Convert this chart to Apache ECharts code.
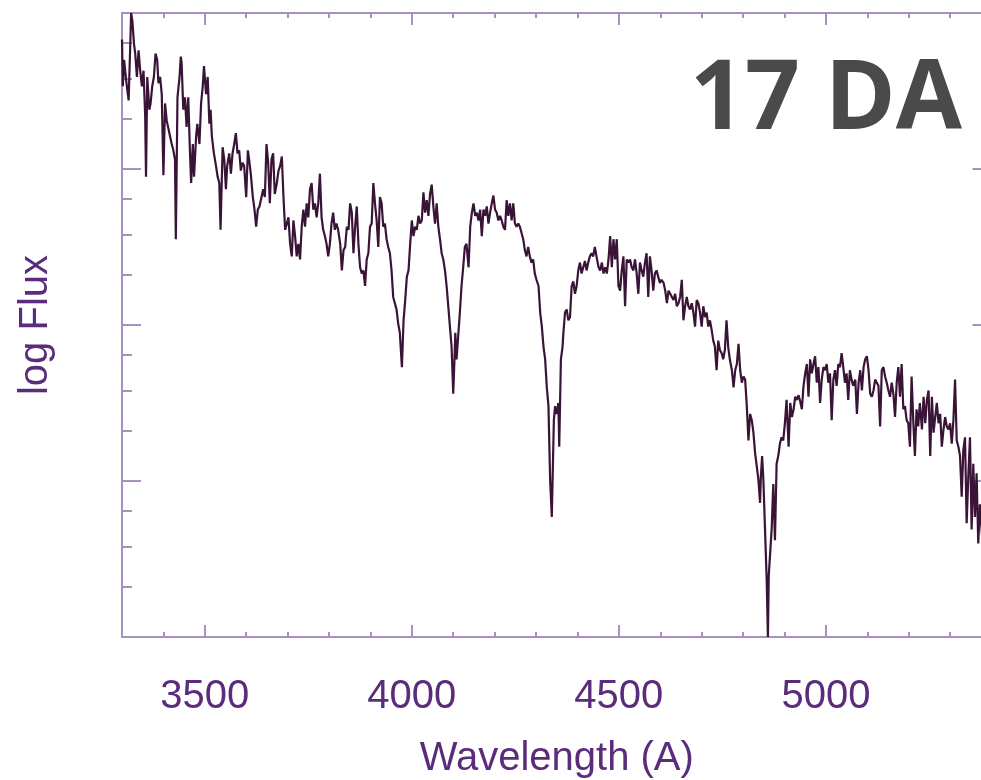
<!DOCTYPE html>
<html>
<head>
<meta charset="utf-8">
<script src="https://cdn.jsdelivr.net/npm/echarts@6/dist/echarts.min.js"></script>
<style>
html,body{margin:0;padding:0;background:#fff;}
#c{width:981px;height:780px;}
</style>
</head>
<body>
<div id="c"></div>
<script>
// Wavelength (Angstrom)
var wavelength = [
3300,3302,3305,3310,3316,3320,3322,3325,3329,3332,3336,3340,3344,3348,3352,3356,3358,3361,3366,3369,
3373,3377,3381,3385,3388,3392,3396,3400,3404,3408,3416,3420,3424,3428,3430,3434,3439,3442,3444,3448,
3452,3456,3460,3464,3467,3471,3474,3479,3482,3487,3491,3495,3498,3503,3507,3511,3514,3517,3522,3527,
3531,3535,3538,3543,3547,3551,3554,3559,3563,3567,3571,3575,3579,3583,3587,3591,3595,3600,3604,3607,
3611,3616,3620,3624,3628,3632,3637,3641,3645,3649,3653,3657,3661,3665,3669,3674,3678,3682,3686,3690,
3694,3698,3702,3706,3710,3714,3718,3722,3726,3730,3734,3738,3742,3746,3750,3754,3758,3762,3766,3770,
3774,3778,3782,3786,3790,3794,3798,3802,3806,3810,3814,3818,3822,
3827,3831,3835,3839,3843,3847,3851,3855,3859,3863,3867,3871,3875,3879,3883,3887,3891,3895,3899,3903,
3907,3911,3915,3919,3923,3927,3931,3935,3939,3943,3947,3951,3955,3959,3963,3967,3971,3976,3980,3984,
3988,3992,3996,4000,4004,4008,4012,4016,4020,4024,4028,4032,4036,4040,4044,4048,4052,4056,4060,4064,
4068,4072,4076,4080,4084,4088,4092,4096,4100,4103,4105,4108,4112,4116,4120,4124,4128,4132,4137,4141,
4145,4149,4153,4157,4161,4165,4169,4173,4177,4181,4185,4189,4193,4197,4201,4205,4209,4213,4217,4221,
4225,4229,4233,4237,4241,4245,4249,4253,4257,4261,4265,4269,4273,4277,4281,4285,4289,4293,4297,4301,
4306,4310,4314,4318,4322,4326,4330,
4334,4338,4340,4343,4346,4350,4354,4356,4360,4364,4366,4370,4374,4378,4382,4386,4390,4394,4398,4402,
4406,4410,4414,4418,4422,4426,4430,4434,4438,4442,4446,4451,4455,4459,4463,4467,4471,4475,4479,4483,
4487,4491,4495,4499,4503,4507,4511,4515,4519,4523,4527,4531,4535,4539,4543,4547,4551,4555,4559,4563,
4567,4571,4575,4579,4583,4587,4591,4595,4599,4603,4608,4612,4616,4620,4624,4628,4632,4636,4640,4644,
4648,4652,4656,4660,4664,4668,4672,4676,4680,4684,4688,4692,4696,4700,4704,4708,4712,4716,4720,4724,
4728,4732,4736,4740,4744,4748,4752,4756,4760,4764,4768,4773,4777,4781,4785,4789,4793,4797,4801,4805,
4809,4813,4817,4821,4825,4829,4833,4837,4841,
4843,4846,4849,4853,4857,4860,4862,4865,4869,4873,4877,4881,4885,4889,4893,4897,4901,4905,4910,4914,
4918,4922,4926,4930,4934,4938,4942,4946,4950,4954,4958,4962,4966,4970,4974,4978,4982,4986,4990,4994,
4998,5002,5006,5010,5014,5018,5022,5026,5030,5034,5038,5042,5046,5050,5054,5058,5062,5066,5071,5075,
5079,5083,5087,5091,5095,5099,5103,5107,5111,5115,5119,5123,5127,5131,5135,5139,5143,5147,5151,5155,
5159,5163,5167,5171,5175,5179,5183,5187,5191,5195,5199,5203,5207,5211,5215,5219,5223,5227,5232,5236,
5240,5244,5248,5252,5256,5260,5264,5268,5272,5276,5280,5284,5288,5292,5296,5300,5304,5308,5312,5316,
5320,5324,5328,5332,5336,5340,5344,5348,5352,5356,5360,5364,5368,5372,5378
];
// log Flux (arbitrary units)
var logFlux = [
3.83,3.53,3.70,3.57,3.44,3.80,4.00,3.95,3.80,3.74,3.59,3.76,3.63,3.53,3.63,3.34,2.95,3.59,3.38,3.42,
3.53,3.59,3.74,3.70,3.55,3.59,3.48,2.96,3.42,3.31,3.21,3.16,3.12,3.06,2.55,3.46,3.59,3.72,3.68,3.38,
3.46,3.27,3.46,3.12,2.91,3.16,2.95,3.21,3.29,3.16,3.42,3.53,3.66,3.48,3.59,3.29,3.38,3.21,3.10,3.02,
2.95,2.91,2.61,3.14,3.06,2.87,3.02,3.10,2.97,3.10,3.16,3.23,3.10,3.12,2.99,3.04,3.02,2.82,3.12,3.06,
2.97,2.82,2.74,2.63,2.74,2.76,2.82,2.87,2.82,3.16,3.04,2.78,3.06,3.10,2.84,2.91,2.99,3.02,3.08,2.82,
2.61,2.65,2.69,2.52,2.44,2.67,2.57,2.44,2.52,2.42,2.63,2.74,2.63,2.78,2.69,2.87,2.91,2.74,2.78,2.69,
2.78,2.97,2.69,2.61,2.57,2.52,2.44,2.52,2.65,2.72,2.61,2.65,2.61,
2.52,2.35,2.48,2.50,2.63,2.61,2.78,2.72,2.46,2.63,2.76,2.52,2.37,2.33,2.35,2.25,2.42,2.46,2.63,2.65,
2.91,2.78,2.67,2.50,2.82,2.78,2.63,2.65,2.55,2.50,2.46,2.35,2.18,2.14,2.10,2.01,1.95,1.73,2.03,2.16,
2.31,2.35,2.52,2.67,2.57,2.63,2.61,2.70,2.65,2.67,2.85,2.72,2.80,2.70,2.84,2.90,2.76,2.65,2.78,2.63,
2.55,2.46,2.42,2.35,2.25,2.12,1.99,1.86,1.56,1.78,1.95,1.78,1.93,2.08,2.25,2.37,2.50,2.52,2.37,2.63,
2.72,2.78,2.70,2.72,2.67,2.74,2.57,2.74,2.70,2.76,2.65,2.72,2.78,2.83,2.74,2.72,2.67,2.70,2.67,2.63,
2.61,2.80,2.70,2.78,2.67,2.78,2.65,2.63,2.65,2.63,2.59,2.55,2.48,2.44,2.50,2.44,2.40,2.42,2.33,2.29,
2.25,2.08,1.99,1.86,1.78,1.60,1.48,
1.01,0.77,1.01,1.39,1.48,1.43,1.50,1.22,1.78,1.86,1.95,2.08,2.10,2.03,2.05,2.25,2.28,2.20,2.25,2.35,
2.40,2.33,2.37,2.41,2.35,2.40,2.44,2.46,2.44,2.50,2.44,2.37,2.35,2.40,2.33,2.37,2.33,2.42,2.57,2.37,
2.55,2.42,2.55,2.25,2.22,2.35,2.44,2.12,2.42,2.40,2.42,2.37,2.35,2.42,2.33,2.20,2.40,2.35,2.31,2.40,
2.46,2.18,2.44,2.35,2.22,2.33,2.35,2.31,2.27,2.29,2.27,2.22,2.14,2.22,2.20,2.18,2.16,2.20,2.12,2.14,
2.18,2.29,2.03,2.12,2.18,2.12,2.10,2.14,2.08,1.99,2.16,2.14,2.08,1.99,2.12,2.05,2.08,1.99,2.03,1.97,
1.90,1.86,1.71,1.90,1.84,1.82,1.78,1.84,2.03,1.86,1.78,1.71,1.60,1.71,1.75,1.88,1.71,1.63,1.67,1.65,
1.48,1.26,1.43,1.39,1.31,1.18,1.18,1.01,0.86,
1.03,1.16,1.01,0.69,0.37,0.00,0.39,0.52,0.69,0.98,0.62,1.11,1.16,1.24,1.28,1.26,1.37,1.52,1.22,1.50,
1.41,1.46,1.54,1.52,1.55,1.51,1.46,1.61,1.69,1.75,1.54,1.78,1.69,1.75,1.80,1.63,1.73,1.50,1.65,1.73,
1.71,1.75,1.63,1.69,1.39,1.65,1.71,1.61,1.75,1.73,1.82,1.73,1.63,1.69,1.52,1.71,1.65,1.61,1.65,1.43,
1.63,1.71,1.58,1.73,1.78,1.80,1.71,1.56,1.54,1.58,1.65,1.63,1.61,1.35,1.71,1.73,1.67,1.63,1.58,1.54,
1.63,1.56,1.41,1.63,1.73,1.54,1.75,1.46,1.48,1.39,1.37,1.22,1.67,1.39,1.16,1.46,1.35,1.50,1.33,1.54,
1.37,1.52,1.58,1.16,1.54,1.31,1.41,1.50,1.37,1.43,1.22,1.33,1.41,1.35,1.33,1.37,1.24,1.39,1.65,1.26,
1.22,1.16,0.90,1.20,1.28,0.73,1.03,1.28,0.69,1.11,0.77,1.05,0.60,0.85,0.62
];
// Tick positions
var xLabels = [3500, 4000, 4500, 5000];
var xMinorTicks = [3300,3400,3600,3700,3800,3900,4100,4200,4300,4400,4600,4700,4800,4900,5100,5200,5300,5400];
var yMajorTicks = [0, 1, 2, 3, 4];
var yMinorTicks = [0.32,0.58,0.81,1.32,1.58,1.81,2.32,2.58,2.81,3.32,3.58,3.81];

var axisColor = '#a791c2';
var textColor = '#5b2b7c';
var lineColor = '#3a1436';

var pts = wavelength.map(function (w, i) { return [w, logFlux[i]]; });

var chart = echarts.init(document.getElementById('c'), null, {renderer: 'canvas'});

function xAx(pos, ticks, len, main) {
  return {
    type: 'value', position: pos, min: 3300, max: 5400,
    axisLine: {show: main, onZero: false, lineStyle: {color: axisColor, width: 2}},
    axisTick: {show: true, inside: true, length: len, customValues: ticks, lineStyle: {color: axisColor, width: 2}},
    axisLabel: main && pos === 'bottom' ? {
      show: true, customValues: xLabels, margin: 40,
      formatter: function (v) { return String(v); },
      color: textColor, fontSize: 40, fontFamily: 'Liberation Sans, Arial, sans-serif'
    } : {show: false},
    splitLine: {show: false},
    name: main && pos === 'bottom' ? 'Wavelength (A)' : '',
    nameLocation: 'middle', nameGap: 102,
    nameTextStyle: {color: textColor, fontSize: 40, fontFamily: 'Liberation Sans, Arial, sans-serif'}
  };
}
function yAx(pos, ticks, len, main) {
  return {
    type: 'value', position: pos, min: 0, max: 4,
    axisLine: {show: main, onZero: false, lineStyle: {color: axisColor, width: 2}},
    axisTick: {show: true, inside: true, length: len, customValues: ticks, lineStyle: {color: axisColor, width: 2}},
    axisLabel: {show: false},
    splitLine: {show: false},
    name: main && pos === 'left' ? 'log Flux' : '',
    nameLocation: 'middle', nameGap: 66, nameRotate: 90,
    nameTextStyle: {color: textColor, fontSize: 40, fontFamily: 'Liberation Sans, Arial, sans-serif'}
  };
}

chart.setOption({
  animation: false,
  backgroundColor: '#ffffff',
  grid: {left: 122, top: 13, width: 869.5, height: 624, containLabel: false, outerBoundsMode: 'none', show: false},
  xAxis: [
    xAx('bottom', xLabels, 12, true),
    xAx('bottom', xMinorTicks, 5, false),
    xAx('top', xLabels, 12, true),
    xAx('top', xMinorTicks, 5, false)
  ],
  yAxis: [
    yAx('left', yMajorTicks, 19, true),
    yAx('left', yMinorTicks, 10, false),
    yAx('right', yMajorTicks, 19, true),
    yAx('right', yMinorTicks, 10, false)
  ],
  graphic: [{
    type: 'text', x: 962, y: 102,
    style: {
      text: '17 DA', fill: '#4a4a4a', align: 'right', verticalAlign: 'middle',
      font: 'bold 96px "Open Sans", "Noto Sans", sans-serif'
    },
    z: 100
  }],
  series: [{
    type: 'line', xAxisIndex: 0, yAxisIndex: 0,
    data: pts, showSymbol: false, symbol: 'none', smooth: false,
    lineStyle: {color: lineColor, width: 2.2},
    clip: true
  }]
});
</script>
</body>
</html>
